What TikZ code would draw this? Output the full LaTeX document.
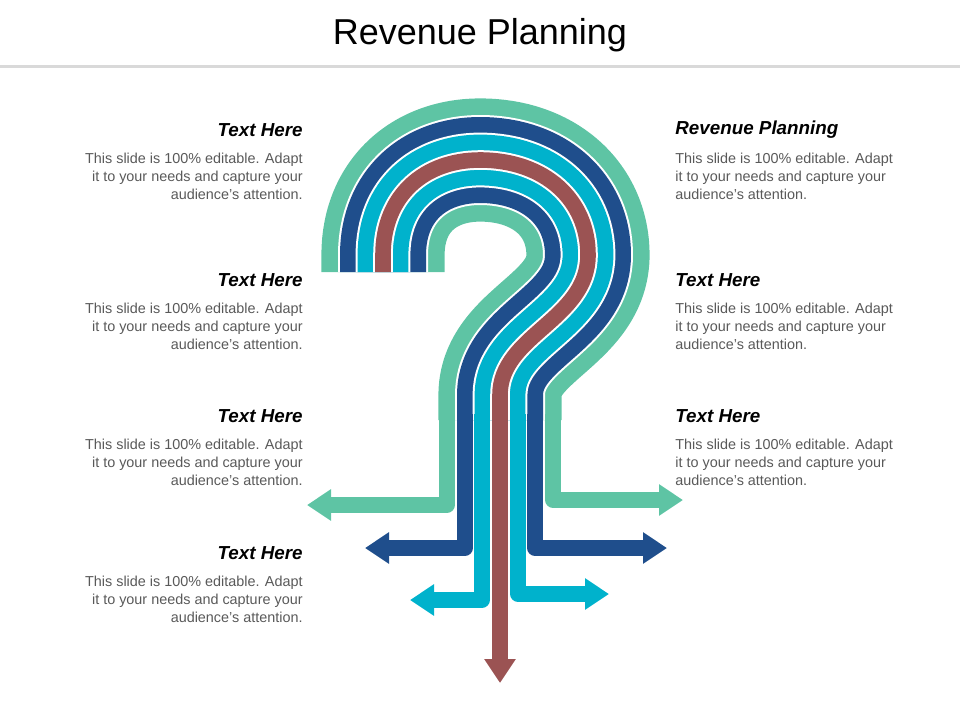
\documentclass[tikz,border=0pt]{standalone}
\usepackage{fontspec}
\setmainfont{Liberation Sans}
\usetikzlibrary{arrows.meta}
\definecolor{cgreen}{HTML}{5EC4A4}
\definecolor{cblue}{HTML}{1F4E8C}
\definecolor{ccyan}{HTML}{00B2CC}
\definecolor{cred}{HTML}{9B5353}
\definecolor{ctext}{HTML}{595959}
\tikzset{
  band/.style={line width=7.8pt, line cap=butt, line join=round},
  tipL/.style={-{Triangle[length=12pt,width=15pt]}},
  head/.style={font=\fontsize{9.4}{11}\selectfont\bfseries\itshape, inner sep=0pt},
  bodyR/.style={font=\fontsize{7.2}{9}\selectfont, text=ctext, align=right, inner sep=0pt},
  bodyL/.style={font=\fontsize{7.2}{9}\selectfont, text=ctext, align=left, inner sep=0pt},
}
\def\bodytext{This slide is 100\% editable. Adapt\\it to your needs and capture your\\audience's attention.}
\begin{document}
\begin{tikzpicture}[x=0.5pt,y=-0.5pt]
\useasboundingbox (0,0) rectangle (960,720);
\node[font=\fontsize{18}{20}\selectfont] (title) at (480,35) {Revenue Planning};
\draw[line width=1.5pt, black!15] (0,66) -- (960,66);
% hook (stacked strokes)
\def\hook{(383,272) -- (383,255) .. controls (383,195) and (425,160) .. (480,160) .. controls (545,160) and (588,200) .. (588,255) .. controls (588,320) and (500,335) .. (500,395) -- (500,420)}
\foreach \w/\c in {61.6/cgreen, 45.0/white, 43.0/cblue, 27.4/white, 25.4/ccyan, 9.8/white, 7.8/cred}{
  \draw[line width=\w pt, \c, line cap=butt, line join=round] \hook;
}
% branches
\coordinate (gl) at (447,414); \coordinate (gr) at (553,414);
\coordinate (bl) at (465,414); \coordinate (br) at (535,414);
\coordinate (cl) at (482,414); \coordinate (cr) at (518,414);
\coordinate (rd) at (500,414);
\draw[band, tipL, cgreen] (gl) -- (447,505) -- (307,505);
\draw[band, tipL, cgreen] (gr) -- (553,500) -- (683,500);
\draw[band, tipL, cblue] (bl) -- (465,548) -- (365,548);
\draw[band, tipL, cblue] (br) -- (535,548) -- (667,548);
\draw[band, tipL, ccyan] (cl) -- (482,600) -- (410,600);
\draw[band, tipL, ccyan] (cr) -- (518,594) -- (609,594);
\draw[band, tipL, cred] (rd) -- (500,683);
% texts left
\foreach \y/\t [count=\i] in {130/Text Here, 280/Text Here, 416/Text Here, 553/Text Here}{
  \node[head, anchor=east] (lh\i) at (303,\y) {\t};
  \node[bodyR, anchor=north east] (lb\i) at (303,\y+23) {\bodytext};
}
\foreach \y/\t [count=\i] in {130/Revenue Planning, 280/Text Here, 416/Text Here}{
  \node[head, anchor=west] (rh\i) at (675,\y) {\t};
  \node[bodyL, anchor=north west] (rb\i) at (675,\y+23) {\bodytext};
}
\end{tikzpicture}
\end{document}
